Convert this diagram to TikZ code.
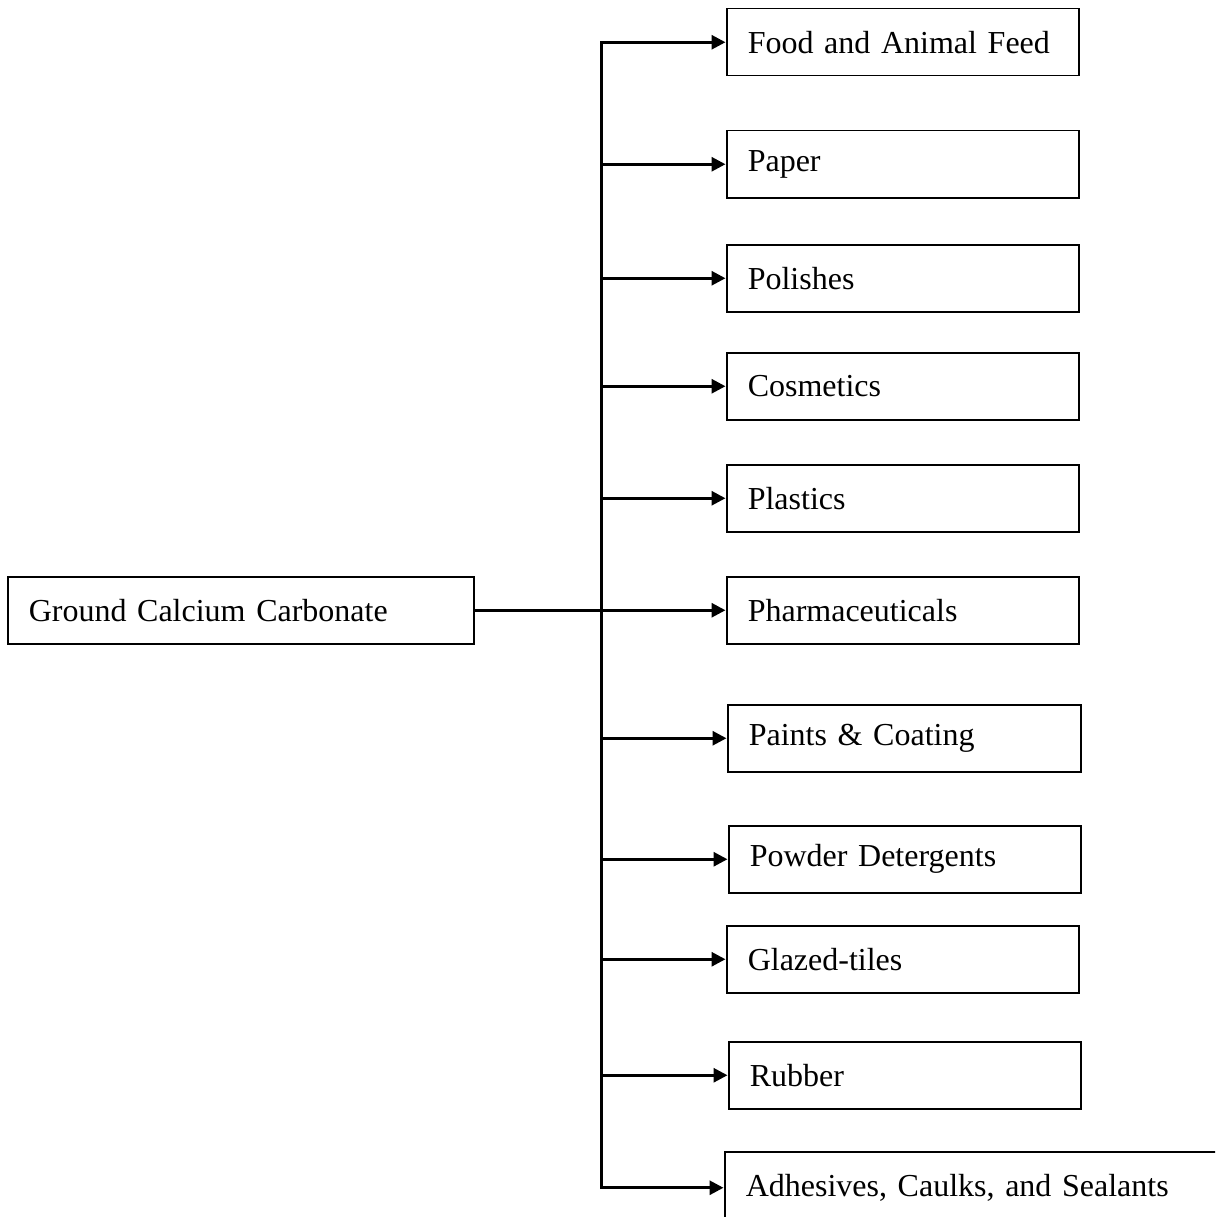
\documentclass[tikz,border=0pt]{standalone}
\usepackage{fontspec}
\setmainfont[WordSpace=0.8]{Liberation Serif}
\usetikzlibrary{arrows.meta}
\begin{document}
\begin{tikzpicture}[x=1pt,y=-1pt,
  box/.style={draw, line width=1.5pt, anchor=north west, inner xsep=21pt, inner ysep=0pt,
    minimum height=67pt, align=left, font=\fontsize{32}{36}\selectfont},
  conn/.style={line width=3pt},
  arr/.style={line width=3pt, -{Triangle[length=14pt,width=14pt]}, shorten >=0.5pt}]
\useasboundingbox (0,0) rectangle (1215,1217);
\clip (0,0) rectangle (1215,1217);
\fill[white] (0,0) rectangle (1215,1217);
\node[box, text width=424pt] (gcc) at (7,576) {Ground Calcium Carbonate};
\node[box, text width=310pt] (f1) at (726,8) {Food and Animal Feed};
\node[box, text width=310pt] (f2) at (726,130) {Paper};
\node[box, text width=310pt] (f3) at (726,244) {Polishes};
\node[box, text width=310pt] (f4) at (726,352) {Cosmetics};
\node[box, text width=310pt] (f5) at (726,464) {Plastics};
\node[box, text width=310pt] (f6) at (726,576) {Pharmaceuticals};
\node[box, text width=311pt] (f7) at (727,704) {Paints \& Coating};
\node[box, text width=310pt] (f8) at (728,825) {Powder Detergents};
\node[box, text width=310pt] (f9) at (726,925) {Glazed-tiles};
\node[box, text width=310pt] (f10) at (728,1041) {Rubber};
\node[box, text width=520pt, minimum height=72pt] (f11) at (724,1151) {Adhesives, Caulks, and Sealants};
\path (gcc.east) -- ++(126.5,0) coordinate (j);
\draw[conn] (gcc.east) -- (j);
\draw[conn, line cap=rect] (j |- f1.west) -- (j |- f11.west);
\foreach \n in {f1,f2,f3,f4,f5,f6,f7,f8,f9,f10,f11}
  \draw[arr] (j |- \n.west) -- (\n.west);
\end{tikzpicture}
\end{document}
